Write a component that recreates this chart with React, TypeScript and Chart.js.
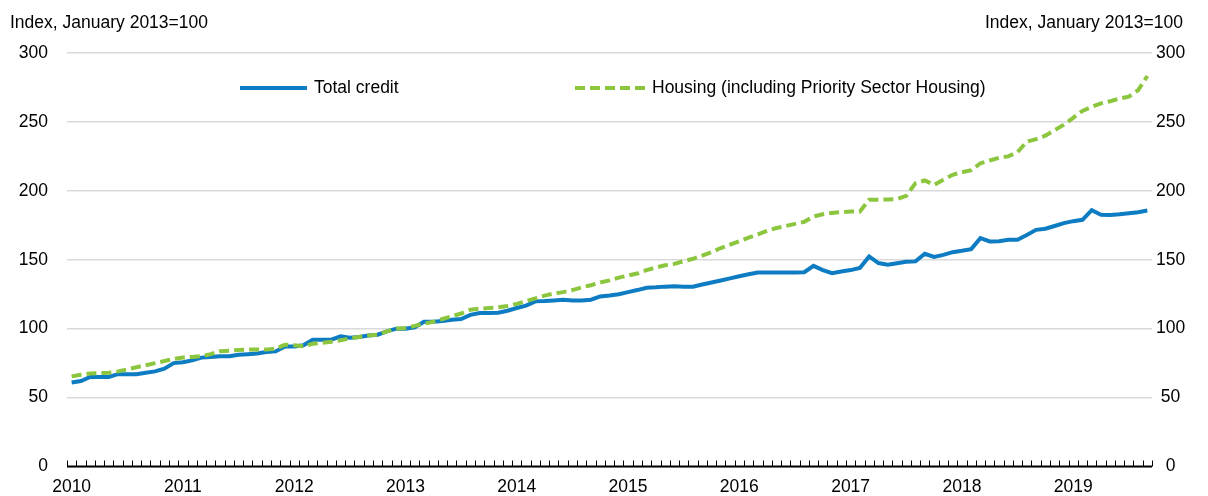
import React, { useEffect, useRef } from "react";
import { Chart, registerables } from "chart.js";

Chart.register(...registerables);

const years: string[] = ["2010", "2011", "2012", "2013", "2014", "2015", "2016", "2017", "2018", "2019"];
const lastYearMonths = 9; // Jan..Sep 2019

const totalCredit: number[] = [
  61, 62, 65, 65, 65, 67, 67, 67, 68, 69, 71, 75,
  75.6, 77, 79, 79.5, 80, 80, 81, 81.5, 82, 83, 83.5, 87,
  87, 88, 92, 92, 92, 94.4, 93.5, 94, 95, 95.6, 98, 100,
  100, 101, 105, 105, 105.5, 106.5, 107, 110, 111.4, 111.4, 111.5, 113,
  115, 116.7, 119.8, 120, 120.5, 121, 120.5, 120.5, 121, 123.4, 124, 125,
  126.5, 128, 129.7, 130, 130.5, 130.7, 130.4, 130.4, 132, 133.5, 135, 136.5,
  138, 139.5, 140.8, 140.8, 140.8, 140.8, 140.8, 141, 145.6, 142.5, 140.3, 141.5,
  142.5, 144, 152.4, 147.6, 146.4, 147.5, 148.5, 148.8, 154.3, 152, 153.5, 155.5,
  156.5, 157.7, 165.7, 163.3, 163.5, 164.5, 164.5, 168, 171.7, 172.5, 174.5, 176.6,
  178, 179, 186, 182.6, 182.5, 183, 183.8, 184.5, 185.7,
];

const housing: number[] = [
  65.4, 66.5, 67.4, 67.7, 68, 69, 70.5, 72, 73.5, 75, 76.5, 78,
  79, 79.5, 80, 81.5, 83.6, 84, 84.5, 84.8, 84.8, 84.8, 85.5, 88.4,
  88, 87.2, 89, 89.8, 90.5, 91.5, 93, 94, 95, 95.6, 98, 100,
  100.5, 102, 103.6, 105, 107, 109, 111, 113.8, 114.5, 115, 115.5, 116.5,
  118, 120, 122, 124, 125.5, 126.5, 128, 130, 131.5, 133.5, 135, 137,
  138.5, 140, 142.5, 144.4, 146, 147, 149, 150.7, 153, 155.5, 158.5, 161,
  163.5, 166, 168.5, 171, 173, 174.5, 176, 177.5, 181.4, 183, 184, 184.5,
  185, 185, 193.5, 193.5, 193.8, 194, 196.4, 205.6, 207.5, 204.3, 208, 211.6,
  213.5, 215, 220, 222, 224, 225, 228, 235.7, 237.5, 240, 244, 248,
  253, 258, 261, 263.5, 265, 267, 268.3, 273, 283.3,
];

const seriesNames: string[] = ["Total credit", "Housing (including Priority Sector Housing)"];
const axisTitle = "Index, January 2013=100";
const yTicks: number[] = [0, 50, 100, 150, 200, 250, 300];

const months: string[] = [];
years.forEach((y, yi) => {
  const n = yi === years.length - 1 ? lastYearMonths : 12;
  for (let m = 1; m <= n; m++) months.push(`${y}-${String(m).padStart(2, "0")}`);
});

const FONT = '17.5px "Liberation Sans", Arial, sans-serif';
const BLUE = "#0e7cc2";
const GREEN = "#8cc63f";

const decor = {
  id: "decor",
  afterDraw(chart: any) {
    const { ctx, chartArea: a, scales } = chart;
    const xs = scales.x;
    ctx.save();
    // x axis line
    ctx.strokeStyle = "#000";
    ctx.lineWidth = 2;
    ctx.beginPath();
    ctx.moveTo(a.left, a.bottom);
    ctx.lineTo(a.right, a.bottom);
    ctx.stroke();
    // monthly tick marks (upward), at category boundaries
    const n = xs.getLabels().length;
    const step = (xs.getPixelForValue(1) - xs.getPixelForValue(0));
    const start = xs.getPixelForValue(0) - step / 2;
    ctx.lineWidth = 1;
    ctx.beginPath();
    for (let k = 0; k <= n; k++) {
      const px = Math.round(start + k * step) + 0.5;
      ctx.moveTo(px, a.bottom);
      ctx.lineTo(px, a.bottom - 6);
    }
    ctx.stroke();
    // axis titles
    ctx.font = FONT;
    ctx.fillStyle = "#000";
    ctx.textBaseline = "alphabetic";
    ctx.textAlign = "left";
    ctx.fillText(axisTitle, 10, 28);
    ctx.textAlign = "right";
    ctx.fillText(axisTitle, 1183, 28);
    // legend
    const ly = 88;
    ctx.lineWidth = 4;
    ctx.strokeStyle = BLUE;
    ctx.setLineDash([]);
    ctx.beginPath();
    ctx.moveTo(240, ly);
    ctx.lineTo(307, ly);
    ctx.stroke();
    ctx.strokeStyle = GREEN;
    ctx.setLineDash([10, 5]);
    ctx.beginPath();
    ctx.moveTo(575, ly);
    ctx.lineTo(645, ly);
    ctx.stroke();
    ctx.setLineDash([]);
    ctx.textAlign = "left";
    ctx.textBaseline = "middle";
    ctx.fillText(seriesNames[0], 314, ly);
    ctx.fillText(seriesNames[1], 652, ly);
    ctx.restore();
  },
};

export default function App() {
  const ref = useRef<HTMLCanvasElement | null>(null);
  useEffect(() => {
    document.body.style.margin = "0";
    const canvas = ref.current;
    if (!canvas) return;
    const chart = new Chart(canvas, {
      type: "line",
      data: {
        labels: months,
        datasets: [
          {
            label: seriesNames[1],
            data: housing,
            borderColor: GREEN,
            borderWidth: 4,
            borderDash: [10, 5],
            pointRadius: 0,
            tension: 0,
            fill: false,
            yAxisID: "y",
            order: 0,
          },
          {
            label: seriesNames[0],
            data: totalCredit,
            borderColor: BLUE,
            borderWidth: 4,
            pointRadius: 0,
            tension: 0,
            fill: false,
            yAxisID: "y",
            order: 1,
          },
        ],
      },
      options: {
        responsive: false,
        animation: false,
        events: [],
        layout: { padding: { top: 53, left: 0, right: 0, bottom: 0 } },
        plugins: { legend: { display: false }, tooltip: { enabled: false } },
        scales: {
          x: {
            type: "category",
            offset: true,
            grid: { display: false, drawTicks: false },
            border: { display: false },
            ticks: {
              autoSkip: false,
              maxRotation: 0,
              minRotation: 0,
              padding: 10,
              color: "#000",
              font: { family: '"Liberation Sans", Arial, sans-serif', size: 17.5 },
              callback: (_v: any, i: number) => (i % 12 === 0 ? months[i].slice(0, 4) : ""),
            },
            afterFit: (s: any) => {
              s.height = 29;
            },
          },
          y: {
            position: "left",
            min: 0,
            max: 300,
            afterBuildTicks: (s: any) => {
              s.ticks = yTicks.map((v) => ({ value: v }));
            },
            grid: { color: "#d9d9d9", lineWidth: 1.5, drawTicks: false },
            border: { display: false },
            ticks: {
              padding: 19,
              color: "#000",
              font: { family: '"Liberation Sans", Arial, sans-serif', size: 17.5 },
            },
            afterFit: (s: any) => {
              s.width = 67;
            },
          },
          y2: {
            position: "right",
            min: 0,
            max: 300,
            afterBuildTicks: (s: any) => {
              s.ticks = yTicks.map((v) => ({ value: v }));
            },
            grid: { display: false, drawTicks: false },
            border: { display: false },
            ticks: {
              padding: 4,
              crossAlign: "center",
              color: "#000",
              font: { family: '"Liberation Sans", Arial, sans-serif', size: 17.5 },
            },
            afterFit: (s: any) => {
              s.width = 56;
            },
          },
        },
      },
      plugins: [decor],
    });
    return () => chart.destroy();
  }, []);
  return (
    <div style={{ width: 1208, height: 496, position: "relative" }}>
      <canvas ref={ref} width={1208} height={496} style={{ display: "block", width: 1208, height: 496 }} />
    </div>
  );
}
